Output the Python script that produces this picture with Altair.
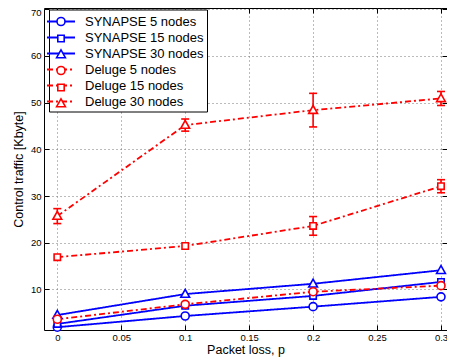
import altair as alt
import pandas as pd

# ---------------- data ----------------
p_values = [0, 0.1, 0.2, 0.3]
series_names = ["SYNAPSE 5 nodes", "SYNAPSE 15 nodes", "SYNAPSE 30 nodes",
                "Deluge 5 nodes", "Deluge 15 nodes", "Deluge 30 nodes"]
synapse_5 = [1.9, 4.3, 6.3, 8.4]
synapse_15 = [2.6, 6.5, 8.6, 11.6]
synapse_30 = [4.5, 9.0, 11.2, 14.1]
deluge_5 = [3.6, 6.8, 9.5, 10.8]
deluge_15 = [16.9, 19.3, 23.6, 32.1]
deluge_30 = [25.7, 45.2, 48.4, 50.9]
err_zero = [0, 0, 0, 0]
deluge_15_err = [0, 0, 2.0, 1.4]
deluge_30_err = [1.6, 1.3, 3.6, 1.5]
x_ticks = [0, 0.05, 0.1, 0.15, 0.2, 0.25, 0.3]
y_ticks = [10, 20, 30, 40, 50, 60, 70]

values = [synapse_5, synapse_15, synapse_30, deluge_5, deluge_15, deluge_30]
errors = [err_zero, err_zero, err_zero, err_zero, deluge_15_err, deluge_30_err]
marker_names = [n + " " for n in series_names]  # separate key for the marker legend

rows = []
for name, mname, vals, errs in zip(series_names, marker_names, values, errors):
    for p, v, e in zip(p_values, vals, errs):
        rows.append({"series": name, "series_p": mname, "p": p, "y": v,
                     "lo": v - e, "hi": v + e, "err": e})
df = pd.DataFrame(rows)
err_df = df[df["err"] > 0]

# ---------------- styles ----------------
BLUE, RED = "#0000ff", "#ff0000"
colors = [BLUE] * 3 + [RED] * 3
dashes = [[1, 0]] * 3 + [[6, 3, 2, 3]] * 3
circle_p = "M0.5,0A0.5,0.5 0 1,1 -0.5,0A0.5,0.5 0 1,1 0.5,0Z"
square_p = "M-0.4,-0.4H0.4V0.4H-0.4Z"
tri_p = "M0,-0.58L0.55,0.4H-0.55Z"
shapes = [circle_p, square_p, tri_p] * 2

W, H = 403, 322
FONT = "Liberation Sans"
xscale = alt.Scale(domain=[-0.0104, 0.3047], nice=False, zero=False)
yscale = alt.Scale(domain=[1.3, 70.28], nice=False, zero=False)

LX, LY = 5, 1.5
common_leg = dict(title=None, orient="none", legendX=LX, legendY=LY,
                  symbolSize=256, labelFont=FONT, labelFontSize=13,
                  labelOffset=15, padding=3, rowPadding=0, labelLimit=0)
legA = alt.Legend(symbolType="M-1.75,0H1.75", symbolStrokeWidth=1.8,
                  fillColor="white", strokeColor="black", **common_leg)
legB = alt.Legend(symbolStrokeWidth=1.6, symbolFillColor="white",
                  labelExpr="''", **common_leg)

main_x_axis = alt.Axis(values=x_ticks, format="~g", title="Packet loss, p",
                       grid=True, ticks=False, domain=False, labelPadding=2,
                       titlePadding=2)
main_y_axis = alt.Axis(values=y_ticks, format="d", title="Control traffic [Kbyte]",
                       grid=True, ticks=False, domain=False, labelPadding=3,
                       titlePadding=5,
                       labelOffset={"condition": {"test": "datum.value == 70", "value": 3.5},
                                    "value": 0})

lines = alt.Chart(df).mark_line(strokeWidth=1.8).encode(
    x=alt.X("p:Q", scale=xscale, axis=main_x_axis),
    y=alt.Y("y:Q", scale=yscale, axis=main_y_axis),
    color=alt.Color("series:N", scale=alt.Scale(domain=series_names, range=colors),
                    legend=legA),
    strokeDash=alt.StrokeDash("series:N", scale=alt.Scale(domain=series_names, range=dashes),
                              legend=legA),
    order="p:Q",
)

rules = alt.Chart(err_df).mark_rule(strokeWidth=1.6, color=RED).encode(
    x=alt.X("p:Q", scale=xscale,
            axis=alt.Axis(orient="top", offset=-H, labels=False, domain=False, grid=False,
                          tickSize=5, tickColor="black", values=x_ticks, title=None)),
    y=alt.Y("lo:Q", scale=yscale,
            axis=alt.Axis(orient="right", offset=-W, labels=False, domain=False, grid=False,
                          tickSize=5, tickColor="black", values=y_ticks, title=None)),
    y2="hi:Q",
)

caps = alt.Chart(err_df).transform_fold(["lo", "hi"], as_=["k", "v"]).mark_tick(
    orient="horizontal", size=8, thickness=1.6, color=RED, opacity=1).encode(
    x=alt.X("p:Q", scale=xscale,
            axis=alt.Axis(orient="bottom", offset=-H, labels=False, domain=False, grid=False,
                          tickSize=5, tickColor="black", values=x_ticks, title=None)),
    y=alt.Y("v:Q", scale=yscale,
            axis=alt.Axis(orient="left", offset=-W, labels=False, domain=False, grid=False,
                          tickSize=5, tickColor="black", values=y_ticks, title=None)),
)

points = alt.Chart(df).mark_point(size=256, filled=False, fill="white", fillOpacity=1,
                                  opacity=1, strokeWidth=1.6).encode(
    x=alt.X("p:Q", scale=xscale, axis=None),
    y=alt.Y("y:Q", scale=yscale, axis=None),
    stroke=alt.Stroke("series_p:N", scale=alt.Scale(domain=marker_names, range=colors),
                      legend=legB),
    shape=alt.Shape("series_p:N", scale=alt.Scale(domain=marker_names, range=shapes),
                    legend=legB),
)

chart = alt.layer(lines, rules, caps, points).resolve_axis(
    x="independent", y="independent"
).properties(
    width=W, height=H,
    autosize=alt.AutoSizeParams(type="none"),
    padding={"left": 36, "top": 0, "right": 0, "bottom": 30},
).configure_view(
    stroke="black", strokeWidth=1
).configure_axis(
    labelFont=FONT, titleFont=FONT, labelFontSize=9.5, titleFontSize=12.5,
    titleFontWeight="normal", labelColor="black", titleColor="black",
    gridColor="#777777", gridDash=[1, 3], gridWidth=1, gridOpacity=1,
)

chart.save("out.html", embed_options={"renderer": "svg", "actions": False})
